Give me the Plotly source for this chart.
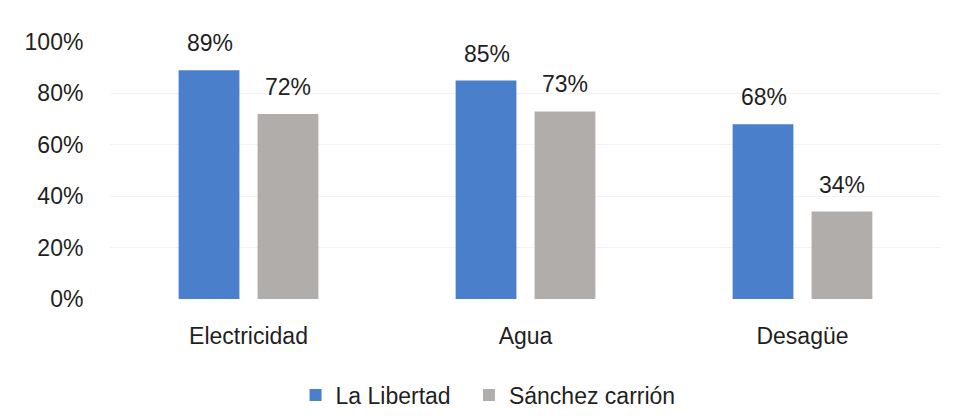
import plotly.graph_objects as go

categories = ["Electricidad", "Agua", "Desagüe"]
la_libertad = [89, 85, 68]
sanchez_carrion = [72, 73, 34]
series_names = ["La Libertad", "Sánchez carrión"]
y_ticks = [0, 20, 40, 60, 80, 100]
y_tick_labels = ["0%", "20%", "40%", "60%", "80%", "100%"]

BLUE = "#4a7fcb"
GRAY = "#b0adab"
TXT = "#1f1f1f"
FONT = "Liberation Sans, Arial, sans-serif"

fig = go.Figure()
fig.add_trace(go.Bar(x=categories, y=la_libertad, name=series_names[0], legend="legend",
                     marker=dict(color=BLUE, line=dict(width=0))))
fig.add_trace(go.Bar(x=categories, y=sanchez_carrion, name=series_names[1], legend="legend2",
                     marker=dict(color=GRAY, line=dict(width=0))))

for vals, shift in ((la_libertad, -39), (sanchez_carrion, 39)):
    for c, v in zip(categories, vals):
        fig.add_annotation(x=c, y=v, xref="x", yref="y", text=f"{v}%",
                           showarrow=False, xshift=shift, yshift=12,
                           yanchor="bottom", font=dict(size=23, color=TXT, family=FONT))

legend_common = dict(orientation="h", xref="container", yref="container",
                     xanchor="left", y=0.055, yanchor="middle",
                     font=dict(size=23, color=TXT, family=FONT), itemclick=False,
                     bgcolor="rgba(0,0,0,0)")

fig.update_layout(
    width=958, height=418,
    margin=dict(l=110, r=17, t=42, b=119, autoexpand=False),
    paper_bgcolor="white", plot_bgcolor="white",
    barmode="group", bargap=0.43, bargroupgap=0.23,
    font=dict(family=FONT, size=23, color=TXT),
    showlegend=True,
    legend=dict(x=0.3085, **legend_common),
    legend2=dict(x=0.4895, **legend_common),
    xaxis=dict(showgrid=False, showline=False, zeroline=False, automargin=False,
               ticks="outside", ticklen=16, tickcolor="rgba(0,0,0,0)",
               tickfont=dict(size=23, color=TXT)),
    yaxis=dict(range=[0, 100], tickvals=y_ticks, ticktext=y_tick_labels,
               showgrid=True, gridcolor="#f3f3f3", gridwidth=1, automargin=False,
               zeroline=False, showline=False,
               ticks="outside", ticklen=21, tickcolor="rgba(0,0,0,0)",
               tickfont=dict(size=23, color=TXT)),
)

fig.write_html("out.html", config={"displayModeBar": False},
               post_script="document.body.style.margin='0';document.body.style.overflow='hidden';")
